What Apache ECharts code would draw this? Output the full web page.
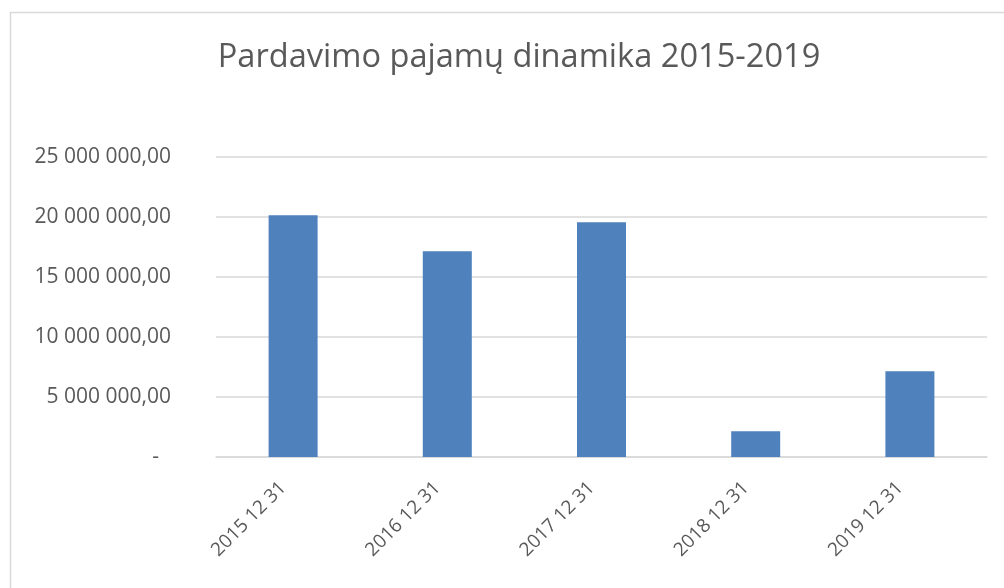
<!DOCTYPE html>
<html><head><meta charset="utf-8">
<script src="https://cdn.jsdelivr.net/npm/echarts@6/dist/echarts.min.js"></script>
<style>html,body{margin:0;padding:0;background:#fff}#c{width:1004px;height:588px}</style>
</head><body><div id="c"></div>
<script>
const titleText = 'Pardavimo pajamų dinamika 2015-2019';
const categories = ['2015 12 31', '2016 12 31', '2017 12 31', '2018 12 31', '2019 12 31'];
const revenue = [20140000, 17140000, 19560000, 2140000, 7140000];
const yTicks = [0, 5000000, 10000000, 15000000, 20000000, 25000000];

function fmt(v) {
  if (v === 0) return '{z|-}';
  const s = Math.round(v).toString().replace(/\B(?=(\d{3})+(?!\d))/g, ' ');
  return s + ',00';
}
const chart = echarts.init(document.getElementById('c'), null, {renderer: 'canvas'});
const font = '"Open Sans", sans-serif';
chart.setOption({
  animation: false,
  backgroundColor: '#fff',
  title: {
    text: titleText, left: 514, textAlign: 'center', top: 36,
    textStyle: {fontFamily: font, fontSize: 32.6, fontWeight: 'normal', color: '#595959'}
  },
  graphic: [{type: 'rect', shape: {x: 10.5, y: 12.5, width: 1100, height: 800},
    style: {fill: 'none', stroke: '#d9d9d9', lineWidth: 1.5}, silent: true}],
  grid: {left: 216, right: 17, top: 157, bottom: 131, containLabel: false},
  xAxis: {
    type: 'category', data: categories,
    axisLine: {lineStyle: {color: '#d9d9d9', width: 1.5}},
    axisTick: {show: false},
    axisLabel: {rotate: 45, color: '#595959', fontFamily: font, fontSize: 19, margin: 18,
      formatter: v => '{a|' + v + '}',
      rich: {a: {color: '#595959', fontFamily: font, fontSize: 19, padding: [0, 14, 0, 0]}}}
  },
  yAxis: {
    type: 'value', min: yTicks[0], max: yTicks[yTicks.length - 1], interval: yTicks[1] - yTicks[0],
    axisLine: {show: false}, axisTick: {show: false},
    splitLine: {lineStyle: {color: '#d9d9d9', width: 1.5}},
    axisLabel: {color: '#595959', fontFamily: font, fontSize: 21, margin: 45, formatter: fmt,
      rich: {z: {color: '#595959', fontFamily: font, fontSize: 21, padding: [0, 12, 0, 0]}}}
  },
  series: [{
    type: 'bar', data: revenue, barWidth: 49,
    itemStyle: {color: '#4f81bd'}
  }]
});
</script></body></html>
